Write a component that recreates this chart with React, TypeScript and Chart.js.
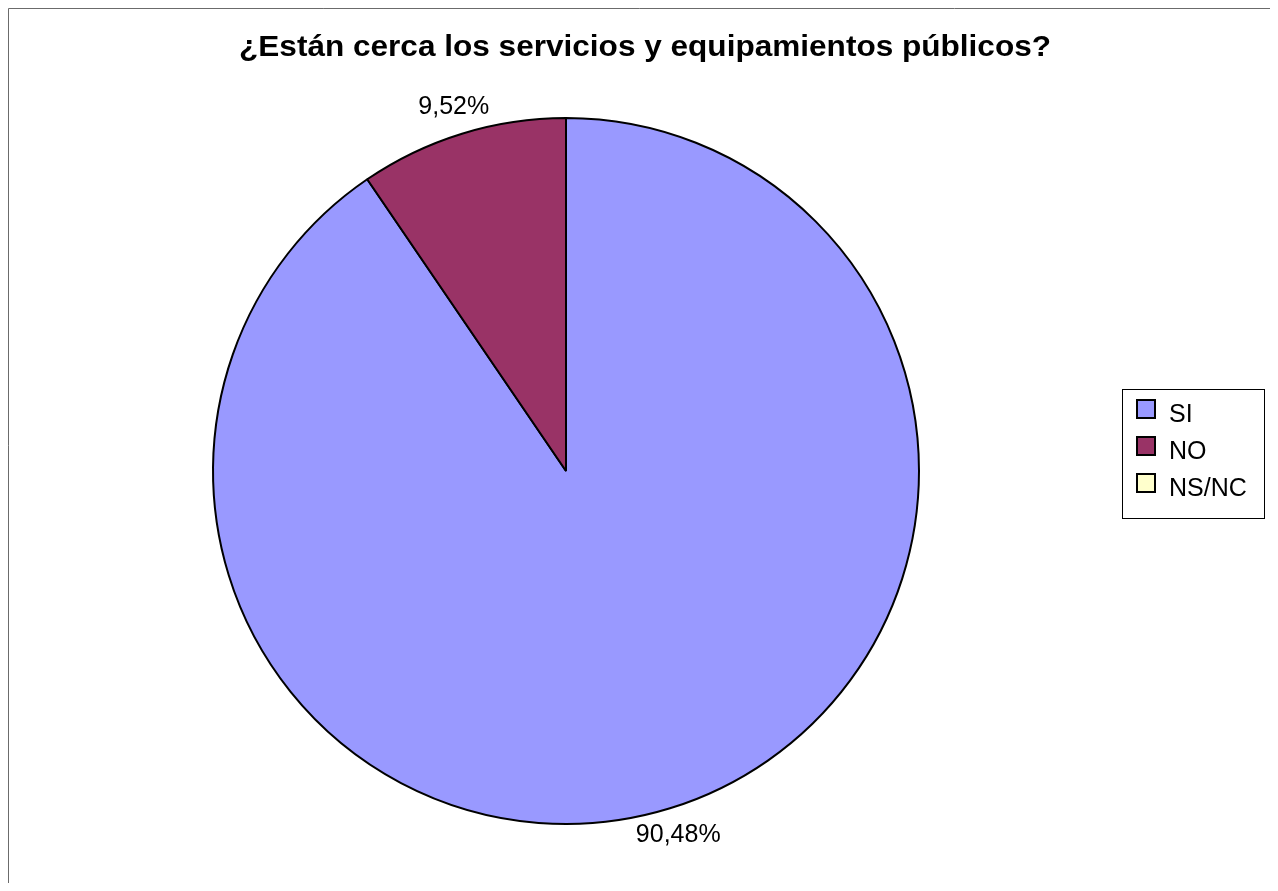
import React, { useEffect, useRef } from "react";
import { Chart, registerables } from "chart.js";

Chart.register(...registerables);

const TITLE = "¿Están cerca los servicios y equipamientos públicos?";
const categories = ["SI", "NO", "NS/NC"];
const percentValues = [90.48, 9.52, 0];
const sliceColors = ["#9999FF", "#993366", "#FFFFCC"];

const FONT = '"Liberation Sans", Arial, Helvetica, sans-serif';

const decorPlugin = {
  id: "decor",
  afterDraw(chart: any) {
    const ctx = chart.ctx as CanvasRenderingContext2D;
    ctx.save();
    // frame (only left/top visible in the reference)
    ctx.strokeStyle = "#6b6b6b";
    ctx.lineWidth = 1;
    ctx.beginPath();
    ctx.moveTo(0.5, chart.height);
    ctx.lineTo(0.5, 0.5);
    ctx.lineTo(chart.width, 0.5);
    ctx.stroke();

    // title (stretched to the reference width)
    ctx.fillStyle = "#000";
    ctx.font = `bold 29px ${FONT}`;
    ctx.textAlign = "center";
    ctx.textBaseline = "alphabetic";
    const tw = ctx.measureText(TITLE).width;
    const sx = 812 / tw;
    ctx.save();
    ctx.translate(637, 48);
    ctx.scale(sx, 1);
    ctx.fillText(TITLE, 0, 0);
    ctx.restore();

    // data labels
    const meta = chart.getDatasetMeta(0);
    const data = chart.data.datasets[0].data as number[];
    const total = data.reduce((a, b) => a + b, 0);
    ctx.font = `25px ${FONT}`;
    ctx.textAlign = "center";
    ctx.textBaseline = "middle";
    meta.data.forEach((arc: any, i: number) => {
      const v = data[i];
      if (!v) return;
      const p = arc.getProps(["x", "y", "startAngle", "endAngle", "outerRadius"], true);
      const mid = (p.startAngle + p.endAngle) / 2;
      const r = p.outerRadius + 28;
      const x = p.x + Math.cos(mid) * r;
      const y = p.y + Math.sin(mid) * r;
      const txt = ((v / total) * 100).toFixed(2).replace(".", ",") + "%";
      ctx.fillText(txt, x, y);
    });

    // legend
    const bx = 1114, by = 381, bw = 142, bh = 129;
    ctx.strokeStyle = "#000";
    ctx.lineWidth = 1;
    ctx.strokeRect(bx + 0.5, by + 0.5, bw, bh);
    ctx.textAlign = "left";
    ctx.textBaseline = "alphabetic";
    categories.forEach((c, i) => {
      const sy = 392 + i * 37;
      ctx.fillStyle = sliceColors[i];
      ctx.fillRect(1129, sy, 18, 18);
      ctx.strokeStyle = "#000";
      ctx.lineWidth = 2;
      ctx.strokeRect(1129, sy, 18, 18);
      ctx.fillStyle = "#000";
      ctx.fillText(c, 1161, sy + 22);
    });
    ctx.restore();
  },
};

export default function App() {
  const ref = useRef<HTMLCanvasElement | null>(null);
  useEffect(() => {
    if (!ref.current) return;
    const chart = new Chart(ref.current, {
      type: "pie",
      data: {
        labels: categories,
        datasets: [
          {
            data: percentValues,
            backgroundColor: sliceColors,
            borderColor: "#000",
            borderWidth: 2,
            hoverOffset: 0,
          },
        ],
      },
      options: {
        animation: false,
        responsive: false,
        maintainAspectRatio: false,
        devicePixelRatio: 1,
        layout: { padding: { left: 204, right: 350, top: 109, bottom: 58 } },
        plugins: {
          legend: { display: false },
          title: { display: false },
          tooltip: { enabled: false },
        },
        events: [],
      },
      plugins: [decorPlugin],
    });
    return () => chart.destroy();
  }, []);
  return (
    <div style={{ position: "relative", width: 1262, height: 875, background: "#fff" }}>
      <canvas ref={ref} width={1262} height={875} style={{ display: "block", width: 1262, height: 875 }} />
    </div>
  );
}
